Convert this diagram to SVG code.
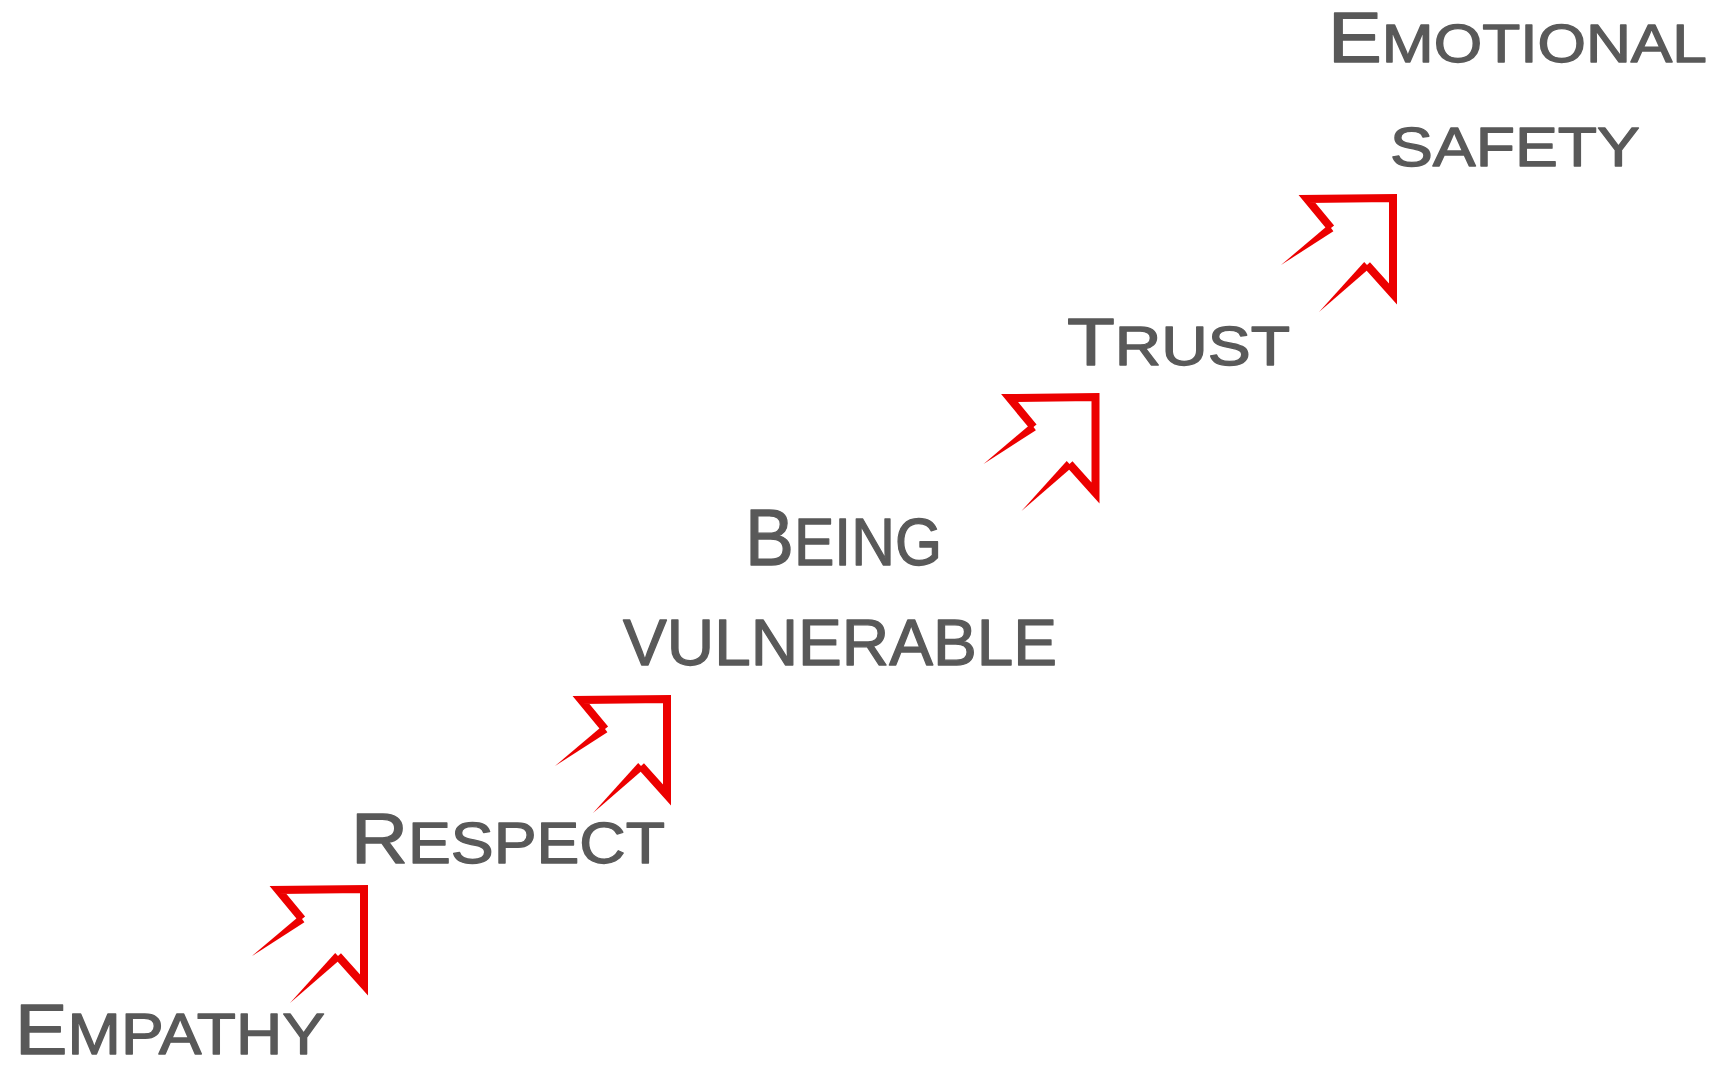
<svg xmlns="http://www.w3.org/2000/svg" xmlns:xlink="http://www.w3.org/1999/xlink" width="1714" height="1066" viewBox="0 0 1714 1066">
<style>
text{font-family:"Liberation Sans","DejaVu Sans",sans-serif;fill:#595959;stroke:#595959;stroke-width:1.3;stroke-linejoin:round;}
.up{text-transform:uppercase;}
</style>
<defs>
<g id="arr">
<polyline points="-62,30 -86,1 0,0 0,96 -26,67" fill="none" stroke="#ec0000" stroke-width="8" stroke-linejoin="miter" stroke-miterlimit="10"/>
<polygon points="-112,67 -59.6,33.2 -64.4,26.8" fill="#ec0000"/>
<polygon points="-23.2,69.9 -28.8,64.1 -74,114" fill="#ec0000"/>
</g>
</defs>
<rect width="1714" height="1066" fill="#ffffff"/>
<g id="connectors">
<use xlink:href="#arr" transform="translate(364,889)"/>
<use xlink:href="#arr" transform="translate(667,699)"/>
<use xlink:href="#arr" transform="translate(1095.5,397)"/>
<use xlink:href="#arr" transform="translate(1393,198)"/>
</g>
<g id="empathy"><text x="15" y="1054" textLength="310" lengthAdjust="spacingAndGlyphs"><tspan font-size="70">E</tspan><tspan class="up" font-size="57">mpathy</tspan></text></g>
<g id="respect"><text x="351" y="863" textLength="314" lengthAdjust="spacingAndGlyphs"><tspan font-size="70">R</tspan><tspan class="up" font-size="57">espect</tspan></text></g>
<g id="being-vulnerable">
<text x="745" y="565" textLength="197" lengthAdjust="spacingAndGlyphs"><tspan font-size="80">B</tspan><tspan class="up" font-size="66">eing</tspan></text>
<text x="623" y="665" textLength="434" lengthAdjust="spacingAndGlyphs" class="up" font-size="64">vulnerable</text>
</g>
<g id="trust"><text x="1067" y="365" textLength="223" lengthAdjust="spacingAndGlyphs"><tspan font-size="67">T</tspan><tspan class="up" font-size="55">rust</tspan></text></g>
<g id="emotional-safety">
<text x="1328" y="62" textLength="379" lengthAdjust="spacingAndGlyphs"><tspan font-size="70">E</tspan><tspan class="up" font-size="54">motional</tspan></text>
<text x="1390" y="166" textLength="250" lengthAdjust="spacingAndGlyphs" class="up" font-size="56">safety</text>
</g>
</svg>
